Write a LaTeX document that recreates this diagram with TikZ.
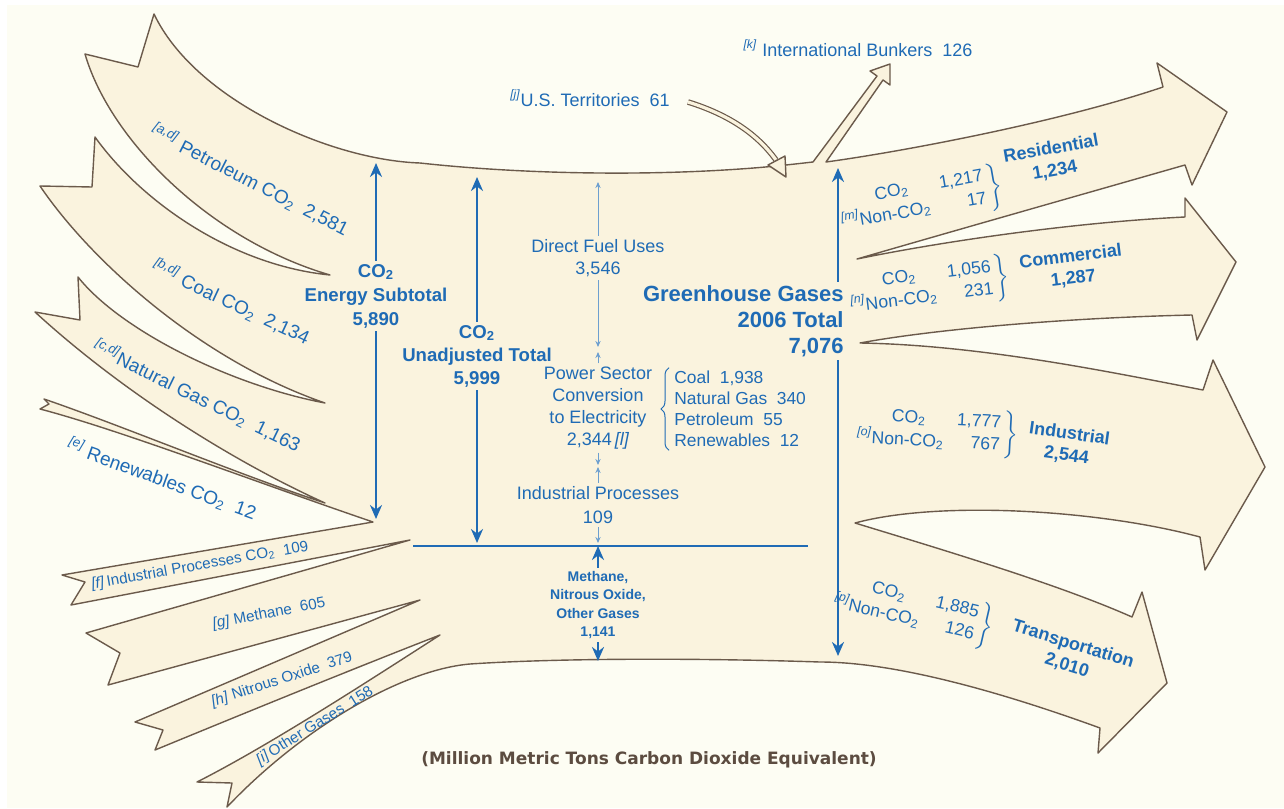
\documentclass[tikz,border=0pt]{standalone}
\usepackage{fontspec}
\setmainfont{Liberation Sans}
\newfontfamily\capfont{DejaVu Sans}
\usepackage{xcolor}
\usepackage{tikz}
\usetikzlibrary{arrows.meta,decorations.pathreplacing}
\definecolor{bgcream}{HTML}{FDFDF3}
\definecolor{flowfill}{HTML}{FAF3DE}
\definecolor{edgebrown}{HTML}{6B5A4B}
\definecolor{ghgblue}{HTML}{1F6BB5}
\definecolor{capbrown}{HTML}{5C4C40}
\newcommand{\cotwo}{CO\textsubscript{2}}
\newcommand{\fnref}[1]{\textsuperscript{\itshape[#1]}}

\begin{document}
\begin{tikzpicture}[
    x=0.5pt, y=-0.5pt,
    flow/.style={fill=flowfill, draw=edgebrown, line width=0.7pt, line join=round},
    lbl/.style={text=ghgblue, inner sep=1.5pt, align=center, font=\fontsize{9}{11}\selectfont},
    bandlbl/.style={text=ghgblue, inner sep=0pt, font=\fontsize{9.5}{11}\selectfont},
    smalllbl/.style={bandlbl, font=\fontsize{7.6}{9}\selectfont},
    boldlbl/.style={lbl, font=\bfseries\fontsize{9.3}{11.5}\selectfont},
    sectlbl/.style={lbl, font=\bfseries\fontsize{9}{11}\selectfont},
    detail/.style={lbl, inner sep=0pt, font=\fontsize{8.8}{10}\selectfont},
    bigarrow/.style={draw=ghgblue, line width=1.4pt, -{Stealth[length=7pt,width=6pt]}},
    thinarrow/.style={draw=ghgblue!65, line width=0.5pt, -{Stealth[length=3pt,width=2.6pt]}}
]
    \useasboundingbox (0,0) rectangle (1284,808);
    \fill[white] (0,0) rectangle (1284,808);
    \fill[bgcream] (7,5) rectangle (1284,808);

    % Flow body
    \filldraw[flow] (154,14) .. controls (195,100) and (330,160) .. (420,163)
        .. controls (520,174) and (640,176) .. (740,169)
        .. controls (770,167) and (795,164) .. (813,162)
        -- (877,76) -- (870,71) -- (890,64) -- (890,85) -- (883,80) -- (826,162)
        .. controls (900,152) and (1060,122) .. (1163,87)
        -- (1157,63) -- (1227,112) -- (1192,185) -- (1185,165)
        .. controls (1080,195) and (950,232) .. (857,259)
        .. controls (950,240) and (1080,222) .. (1185,217)
        -- (1185,198) -- (1236,262) -- (1197,340) -- (1192,315)
        .. controls (1060,318) and (930,330) .. (860,343)
        .. controls (980,345) and (1110,372) .. (1203,390)
        -- (1213,360) -- (1265,467) -- (1205,570) -- (1200,537)
        .. controls (1100,510) and (940,500) .. (855,523)
        .. controls (950,552) and (1060,585) .. (1132,617)
        -- (1142,592) -- (1167,683) -- (1098,753) -- (1100,728)
        .. controls (990,688) and (890,662) .. (820,662)
        .. controls (700,658) and (560,658) .. (470,664)
        .. controls (400,670) and (300,730) .. (227,807)
        -- (232,783) -- (197,782)
        .. controls (270,745) and (370,680) .. (440,635)
        .. controls (350,670) and (240,715) .. (155,750)
        -- (163,730) -- (135,722)
        -- (420,600) -- (108,685) -- (120,653) -- (86,633)
        -- (410,540) -- (71,605) -- (85,582) -- (62,575)
        -- (373,522)
        .. controls (250,480) and (120,430) .. (40,409)
        -- (49,404) -- (44,399)
        .. controls (120,425) and (240,475) .. (325,503)
        .. controls (230,460) and (120,390) .. (35,312)
        -- (80,320) -- (78,277)
        .. controls (120,330) and (230,385) .. (325,403)
        .. controls (200,360) and (90,260) .. (40,186)
        -- (92,187) -- (95,137)
        .. controls (140,200) and (230,265) .. (330,275)
        .. controls (210,240) and (110,140) .. (85,54)
        -- (138,67) -- cycle;

    % U.S. Territories inflow
    \coordinate (ustail) at (688,102);
    \coordinate (ushead) at (776,160);
    \draw[draw=edgebrown, double=flowfill, double distance=1.6pt, line width=0.6pt]
        (ustail) .. controls (730,115) and (758,135) .. (ushead);
    \filldraw[flow] (768,165) -- (786,177) -- (785,156) -- cycle;

    % Sources
    \node[bandlbl, rotate=-27] (petrollbl) at (250,180) {\fnref{a,d} Petroleum \cotwo\ \ 2,581};
    \node[bandlbl, rotate=-25] (coallbl) at (231,302) {\fnref{b,d} Coal \cotwo\ \ 2,134};
    \node[bandlbl, rotate=-26] (gaslbl) at (197,396) {\fnref{c,d}Natural Gas \cotwo\ \ 1,163};
    \node[bandlbl, rotate=-20] (renewlbl) at (162,479) {\fnref{e} Renewables \cotwo\ \ 12};
    \node[smalllbl, rotate=10] (indproclbl) at (200,566) {\textit{[f]}\,Industrial Processes \cotwo\ \ 109};
    \node[smalllbl, rotate=11] (methlbl) at (269,614) {\textit{[g]} Methane\ \ 605};
    \node[smalllbl, rotate=18] (nitrolbl) at (282,680) {\textit{[h]} Nitrous Oxide\ \ 379};
    \node[smalllbl, rotate=32] (otherlbl) at (315,726) {\textit{[i]}\,Other Gases\ \ 158};

    % Top labels
    \node[lbl] (usterr) at (590,98) {\fnref{j}U.S. Territories\ \ 61};
    \node[lbl] (bunkers) at (858,48) {\fnref{k} International Bunkers\ \ 126};

    % Totals
    \node[boldlbl, font=\bfseries\fontsize{9.3}{12}\selectfont] (energylbl) at (376,296) {\cotwo\\Energy Subtotal\\5,890};
    \node[boldlbl] (unadjlbl) at (477,356) {\cotwo\\Unadjusted Total\\5,999};
    \node[lbl, font=\bfseries\fontsize{11}{13}\selectfont, align=right, anchor=east] (totallbl) at (847,321) {Greenhouse Gases\\2006 Total\\7,076};

    \coordinate (energytop) at (376,163);
    \coordinate (energybot) at (376,519);
    \coordinate (unadjtop) at (477,177);
    \coordinate (unadjbot) at (477,543);
    \coordinate (ghgtop) at (838,168);
    \coordinate (ghgbot) at (838,656);
    \draw[bigarrow] (energylbl.north) -- (energytop);
    \draw[bigarrow] (energylbl.south) -- (energybot);
    \draw[bigarrow] (unadjlbl.north) -- (unadjtop);
    \draw[bigarrow] (unadjlbl.south) -- (unadjbot);
    \draw[bigarrow] (totallbl.north -| ghgtop) -- (ghgtop);
    \draw[bigarrow] (totallbl.south -| ghgbot) -- (ghgbot);

    % Middle column
    \node[lbl] (directlbl) at (598,258) {Direct Fuel Uses\\3,546};
    \node[lbl] (powerlbl) at (598,408) {Power Sector\\Conversion\\to Electricity\\2,344\,\textit{[l]}};
    \node[lbl, align=left, anchor=west, font=\fontsize{8.7}{10.5}\selectfont] (pslist) at (671,409)
        {Coal\ \ 1,938\\Natural Gas\ \ 340\\Petroleum\ \ 55\\Renewables\ \ 12};
    \draw[ghgblue, line width=0.5pt, decorate, decoration={brace, amplitude=4pt}]
        ([xshift=-1pt]pslist.south west) -- ([xshift=-1pt]pslist.north west);
    \node[lbl, font=\fontsize{9}{12}\selectfont] (indlbl) at (598,505) {Industrial Processes\\109};
    \node[lbl, font=\bfseries\fontsize{7}{9.2}\selectfont] (ghglbl) at (598,605) {Methane,\\Nitrous Oxide,\\Other Gases\\1,141};

    \coordinate (directtop) at (598,182);
    \coordinate (directbot) at (598,347);
    \coordinate (powertop) at (598,352);
    \coordinate (powerbot) at (598,465);
    \coordinate (indtop) at (598,467);
    \coordinate (indbot) at (598,543);
    \coordinate (methbot) at (598,661);
    \coordinate (barleft) at (413,546);
    \coordinate (barright) at (808,546);
    \draw[thinarrow] (directlbl.north) -- (directtop);
    \draw[thinarrow] (directlbl.south) -- (directbot);
    \draw[thinarrow] (powerlbl.north) -- (powertop);
    \draw[thinarrow] (powerlbl.south) -- (powerbot);
    \draw[thinarrow] (indlbl.north) -- (indtop);
    \draw[thinarrow] (indlbl.south) -- (indbot);
    \draw[ghgblue, line width=1.1pt] (barleft) -- (barright);
    \draw[bigarrow, line width=1.2pt] (ghglbl.north) -- (ghglbl.north |- barleft);
    \draw[bigarrow, line width=1.2pt] (ghglbl.south) -- (methbot);

    % End-use sectors
    \node[detail, rotate=10] (resdetail) at (930,198)
        {\begin{tabular}{@{}c@{\hspace{6pt}}r@{}}\cotwo & 1,217\\ \llap{\fnref{m}}Non-\cotwo & 17\end{tabular}$\left.\vphantom{\begin{tabular}{c}0\\0\end{tabular}}\right\}$};
    \node[sectlbl, rotate=10] (reslbl) at (1053,160) {Residential\\1,234};
    \node[detail, rotate=7] (comdetail) at (937,286)
        {\begin{tabular}{@{}c@{\hspace{6pt}}r@{}}\cotwo & 1,056\\ \llap{\fnref{n}}Non-\cotwo & 231\end{tabular}$\left.\vphantom{\begin{tabular}{c}0\\0\end{tabular}}\right\}$};
    \node[sectlbl, rotate=7] (comlbl) at (1072,268) {Commercial\\1,287};
    \node[detail, rotate=-3] (inddetail) at (945,432)
        {\begin{tabular}{@{}c@{\hspace{6pt}}r@{}}\cotwo & 1,777\\ \llap{\fnref{o}}Non-\cotwo & 767\end{tabular}$\left.\vphantom{\begin{tabular}{c}0\\0\end{tabular}}\right\}$};
    \node[sectlbl, rotate=-8] (indsectlbl) at (1068,445) {Industrial\\2,544};
    \node[detail, rotate=-13] (trdetail) at (922,612)
        {\begin{tabular}{@{}c@{\hspace{6pt}}r@{}}\cotwo & 1,885\\ \llap{\fnref{p}}Non-\cotwo & 126\end{tabular}$\left.\vphantom{\begin{tabular}{c}0\\0\end{tabular}}\right\}$};
    \node[sectlbl, rotate=-17] (trlbl) at (1070,655) {Transportation\\2,010};

    % Units
    \node[text=capbrown, font=\capfont\bfseries\fontsize{8.5}{10}\selectfont] (unitslbl) at (649,760)
        {(Million Metric Tons Carbon Dioxide Equivalent)};
\end{tikzpicture}
\end{document}
